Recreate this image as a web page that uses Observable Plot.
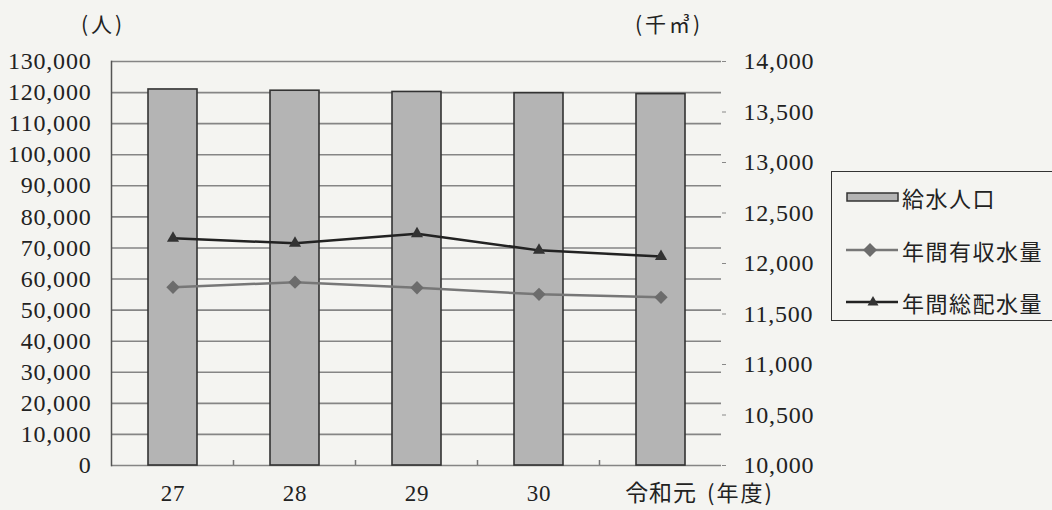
<!DOCTYPE html>
<html>
<head>
<meta charset="utf-8">
<script src="https://cdn.jsdelivr.net/npm/d3@7"></script>
<script src="https://cdn.jsdelivr.net/npm/@observablehq/plot@0.6"></script>
<style>
  html, body { margin: 0; padding: 0; background: #f4f4f1; }
  #wrap { position: relative; width: 1052px; height: 510px; overflow: hidden; background: #f4f4f1; }
  .unit { position: absolute; font-family: "Noto Sans CJK JP", sans-serif; font-size: 21px; color: #222; line-height: 1; letter-spacing: 3px; }
  #legend { position: absolute; left: 831px; top: 171px; width: 260px; height: 150px; border: 1.5px solid #333; box-sizing: border-box; }
  .item { position: absolute; left: 14px; height: 30px; display: flex; align-items: center; font-family: "Noto Sans CJK JP", sans-serif; font-size: 22px; letter-spacing: 1.5px; color: #222; }
  .item svg { margin-right: 3px; }
</style>
</head>
<body>
<div id="wrap">
  <div class="unit" style="left:81px; top:13px;">(人)</div>
  <div class="unit" style="left:635px; top:13px;">(千㎥)</div>
  <div id="legend"></div>
</div>
<script>
// categories (年度)
const years = ["27", "28", "29", "30", "令和元"];
// 給水人口 (人) — left axis
const population = [121000, 120600, 120200, 119800, 119500];
// 年間有収水量 (千㎥) — right axis
const revenueWater = [11765, 11815, 11760, 11695, 11665];
// 年間総配水量 (千㎥) — right axis
const distributedWater = [12250, 12200, 12295, 12130, 12070];
// tick labels
const leftTicks = [0, 10000, 20000, 30000, 40000, 50000, 60000, 70000, 80000, 90000, 100000, 110000, 120000, 130000];
const rightTicks = [10000, 10500, 11000, 11500, 12000, 12500, 13000, 13500, 14000];
const seriesNames = ["給水人口", "年間有収水量", "年間総配水量"];

const rows = years.map((y, i) => ({year: y, population: population[i], revenue: revenueWater[i], distributed: distributedWater[i]}));

// map right-axis values (10,000–14,000) onto the left scale (0–130,000)
const toY = v => (v - rightTicks[0]) * (leftTicks[leftTicks.length - 1] - leftTicks[0]) / (rightTicks[rightTicks.length - 1] - rightTicks[0]);
const fromY = y => y * (rightTicks[rightTicks.length - 1] - rightTicks[0]) / (leftTicks[leftTicks.length - 1] - leftTicks[0]) + rightTicks[0];
const fmt = d3.format(",");

const boundaryTicks = (index, scales, values, dims) => {
  const g = d3.create("svg:g");
  const x = scales.x;
  const step = x.step ? x.step() : (dims.width - dims.marginLeft - dims.marginRight) / years.length;
  const base = dims.height - dims.marginBottom;
  years.forEach((c, i) => {
    if (i === 0) return;
    const xc = x(c) + (x.bandwidth ? x.bandwidth() / 2 : 0) - step / 2;
    g.append("line").attr("x1", xc).attr("x2", xc).attr("y1", base).attr("y2", base - 5)
      .attr("stroke", "#777").attr("stroke-width", 1.5);
  });
  return g.node();
};

const chart = Plot.plot({
  width: 830,
  height: 510,
  marginLeft: 111,
  marginRight: 109,
  marginTop: 61,
  marginBottom: 45,
  style: {background: "transparent", fontFamily: "'Liberation Serif', 'Noto Sans CJK JP', serif", fontSize: "24px", color: "#222", overflow: "visible"},
  x: {domain: years, paddingInner: 0.6, paddingOuter: 0.3, label: null},
  y: {domain: [leftTicks[0], leftTicks[leftTicks.length - 1]], label: null},
  marks: [
    Plot.ruleY(leftTicks, {stroke: "#858585", strokeWidth: 1.6}),
    Plot.frame({anchor: "left", stroke: "#555", strokeWidth: 1.5}),
    boundaryTicks,
    Plot.barY(rows, {x: "year", y: "population", fill: "#b4b4b4", stroke: "#333", strokeWidth: 1.6}),
    Plot.line(rows, {x: "year", y: d => toY(d.revenue), stroke: "#777", strokeWidth: 2.5}),
    Plot.dot(rows, {x: "year", y: d => toY(d.revenue), symbol: "diamond2", r: 6, fill: "#6c6c6c", stroke: "none"}),
    Plot.line(rows, {x: "year", y: d => toY(d.distributed), stroke: "#222", strokeWidth: 2.5}),
    Plot.dot(rows, {x: "year", y: d => toY(d.distributed), symbol: "triangle", r: 4.5, fill: "#333", stroke: "none"}),
    Plot.axisY({anchor: "left", ticks: leftTicks, tickSize: 0, tickPadding: 20, tickFormat: fmt, fontSize: 24, label: null}),
    Plot.axisY({anchor: "right", ticks: rightTicks.map(toY), tickSize: 4, tickPadding: 18, stroke: "#888", tickFormat: d => fmt(Math.round(fromY(d))), fontSize: 24, label: null}),
    Plot.axisX({anchor: "bottom", tickSize: 0, tickPadding: 19, fontSize: 23, label: null})
  ]
});
chart.style.letterSpacing = "0.8px";
const wrap = document.getElementById("wrap");
wrap.insertBefore(chart, wrap.firstChild);
chart.style.position = "absolute";
chart.style.left = "0px";
chart.style.top = "0px";

const yearUnit = document.createElement("div");
yearUnit.className = "unit";
yearUnit.style.left = "707px";
yearUnit.style.top = "480px";
yearUnit.style.fontSize = "22px";
yearUnit.style.letterSpacing = "2px";
yearUnit.textContent = "(年度)";
wrap.appendChild(yearUnit);

// legend
const legend = document.getElementById("legend");
const swatches = [
  `<svg width="53" height="12"><rect x="1" y="2" width="51" height="8" fill="#b4b4b4" stroke="#333" stroke-width="1.5"/></svg>`,
  `<svg width="53" height="16"><line x1="0" y1="8" x2="52" y2="8" stroke="#777" stroke-width="2.5"/><path d="M24,1 L31,8 L24,15 L17,8 Z" fill="#6c6c6c"/></svg>`,
  `<svg width="53" height="16"><line x1="0" y1="8" x2="52" y2="8" stroke="#222" stroke-width="2.5"/><path d="M27,2 L32.5,11.5 L21.5,11.5 Z" fill="#333"/></svg>`
];
const tops = [10, 63, 115];
seriesNames.forEach((name, i) => {
  const it = document.createElement("div");
  it.className = "item";
  it.style.top = tops[i] + "px";
  it.innerHTML = swatches[i] + `<span>${name}</span>`;
  legend.appendChild(it);
});
</script>
</body>
</html>
